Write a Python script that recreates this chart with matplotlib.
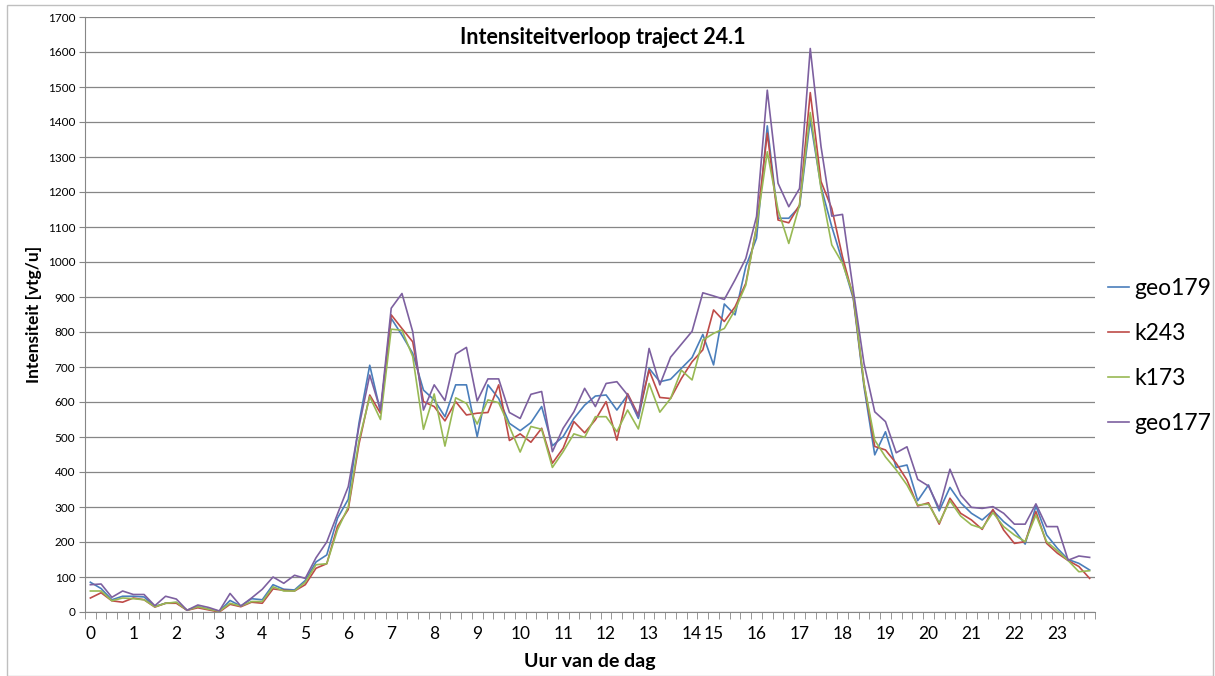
import numpy as np
import matplotlib
matplotlib.use("Agg")
import matplotlib.pyplot as plt

# ---------------- DATA (quarter-hour intensities, veh/h) ----------------
# hour 14 only has two quarter-hour values in the source data
hour_labels = [str(h) for h in range(24)]
hour_start_idx = [4 * h for h in range(15)] + [58 + 4 * k for k in range(9)]

geo179 = [85, 67, 35, 45, 45, 43, 16, 25, 27, 5, 15, 8, 2, 33, 17, 38, 35, 78, 65, 63,
          90, 143, 163, 268, 322, 540, 705, 572, 839, 791, 739, 634, 606, 558, 649, 649,
          501, 649, 610, 539, 518, 541, 587, 475, 501, 553, 591, 617, 620, 577, 620, 553,
          696, 658, 665, 696, 727, 793, 706, 880, 849, 987, 1068, 1389, 1125, 1125, 1158,
          1406, 1215, 1101, 1001, 896, 644, 449, 515, 413, 420, 318, 363, 289, 356, 312,
          282, 263, 290, 258, 234, 194, 303, 220, 182, 150, 139, 120]

k243 = [40, 55, 32, 28, 40, 35, 14, 25, 25, 5, 12, 6, 0, 22, 15, 28, 25, 66, 62, 60,
        78, 125, 138, 245, 293, 480, 620, 568, 849, 810, 772, 601, 587, 546, 601, 563,
        568, 570, 649, 490, 509, 485, 525, 425, 468, 544, 512, 549, 601, 491, 624, 563,
        691, 613, 610, 667, 715, 749, 863, 830, 872, 939, 1101, 1368, 1120, 1112, 1163,
        1484, 1230, 1153, 1015, 901, 653, 473, 463, 425, 377, 303, 312, 251, 325, 282,
        263, 236, 293, 234, 196, 201, 287, 196, 168, 147, 130, 96]

k173 = [60, 60, 32, 40, 38, 35, 15, 25, 28, 5, 15, 8, 2, 25, 17, 30, 30, 72, 60, 60,
        85, 135, 138, 235, 300, 490, 615, 550, 808, 805, 730, 522, 623, 474, 612, 596,
        537, 606, 598, 530, 457, 530, 522, 413, 458, 509, 499, 558, 558, 515, 577, 523,
        653, 571, 610, 691, 663, 777, 796, 810, 863, 934, 1101, 1315, 1149, 1053, 1163,
        1427, 1210, 1049, 996, 906, 653, 491, 443, 406, 363, 306, 308, 255, 318, 274,
        249, 239, 284, 244, 220, 201, 277, 201, 175, 147, 115, 118]

geo177 = [78, 80, 42, 60, 50, 50, 18, 45, 37, 5, 20, 13, 3, 53, 17, 40, 65, 100, 82, 105,
          96, 155, 200, 280, 358, 530, 677, 577, 868, 910, 801, 577, 649, 604, 737, 756,
          603, 666, 666, 570, 553, 622, 630, 458, 525, 572, 639, 587, 653, 658, 620, 558,
          753, 649, 728, 765, 802, 912, 903, 893, 949, 1010, 1130, 1491, 1225, 1158, 1210,
          1610, 1330, 1131, 1136, 920, 710, 572, 544, 455, 472, 379, 360, 296, 408, 334,
          299, 296, 301, 282, 251, 251, 309, 244, 244, 148, 160, 156]

series_names = ["geo179", "k243", "k173", "geo177"]
series_colors = ["#4A7EBB", "#BE4B48", "#98B954", "#7D60A0"]
# ------------------------------------------------------------------------

plt.rcParams["font.family"] = ["Lato", "DejaVu Sans"]

W, H = 1215, 676
fig = plt.figure(figsize=(W / 100, H / 100), dpi=100)

# chart area border (Excel style)
fig.patches.append(plt.Rectangle((7 / W, 0), (W - 9) / W, (H - 5) / H,
                                 transform=fig.transFigure, fill=False,
                                 edgecolor="#BFBFBF", linewidth=1))

ax = fig.add_axes([85 / W, (H - 612) / H, 1010 / W, 595 / H])

x = np.arange(len(geo179))
for vals, name, col in zip([geo179, k243, k173, geo177], series_names, series_colors):
    ax.plot(x, vals, color=col, linewidth=1.2, label=name)

ax.set_xlim(-0.5, len(x) - 0.5)
ax.set_ylim(0, 1700)

# y axis
ax.set_yticks(np.arange(0, 1701, 100))
ax.tick_params(axis="y", labelsize=8.5, length=4, color="#868686", pad=3)
ax.yaxis.grid(True, color="#868686", linewidth=0.9)
ax.set_axisbelow(True)

# x axis: ticks between categories, labels at start of each hour
ax.set_xticks(np.arange(-0.5, len(x) + 0.5, 1), minor=True)
ax.set_xticks(hour_start_idx)
ax.set_xticklabels(hour_labels)
ax.tick_params(axis="x", which="major", length=0, labelsize=12.5, pad=10)
ax.tick_params(axis="x", which="minor", length=5, color="#868686")

for s in ["top", "right"]:
    ax.spines[s].set_visible(False)
for s in ["left", "bottom"]:
    ax.spines[s].set_color("#868686")

ax.set_xlabel("Uur van de dag", fontsize=14, fontweight="bold", labelpad=8)
ax.set_ylabel("Intensiteit [vtg/u]", fontsize=12.5, fontweight="bold", labelpad=4)

fig.text(603 / W, 1 - 38 / H, "Intensiteitverloop traject 24.1",
         ha="center", va="center", fontsize=15.5, fontweight="bold")

fig.legend(loc="center left", bbox_to_anchor=(1108 / W, 1 - 356 / H),
           frameon=False, fontsize=16.5, handlelength=0.9, handletextpad=0.25,
           labelspacing=1.05, borderaxespad=0, borderpad=0)

plt.savefig("out.png", dpi=100)
